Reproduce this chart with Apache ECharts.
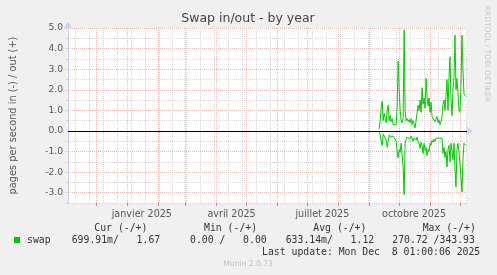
<!DOCTYPE html>
<html>
<head>
<meta charset="utf-8">
<script src="https://cdn.jsdelivr.net/npm/echarts@6/dist/echarts.min.js"></script>
<style>
html, body { margin: 0; padding: 0; background: #f0f0f0; }
#chart { width: 497px; height: 275px; }
</style>
</head>
<body>
<div id="chart"></div>
<script>
// one value per day, starting at firstDay
var firstDay = "2025-09-11";
var outValues = [0.1, 0.5, 1.1, 1.45, 0.5, 0.85, 0.6, 0.4, 0.95, 1.25,
    0.5, 0.75, 0.45, 0.6, 0.3, 0.25, 0.25, 0.3, 1.2, 3.4,
    2.1, 1.0, 0.5, 0.4, 0.6, 4.9, 1.0, 0.5, 0.6, 0.45,
    0.55, 0.4, 0.6, 0.3, 0.5, 0.35, 0.15, 0.5, 0.9, 1.25,
    1.0, 1.5, 0.9, 2.1, 1.3, 1.6, 1.1, 2.55, 1.7, 1.2,
    1.6, 0.9, 1.4, 0.7, 0.6, 0.55, 0.45, 0.5, 0.7, 0.4,
    0.55, 0.3, 0.45, 0.7, 1.3, 1.5, 1.0, 1.7, 2.5, 1.0,
    2.6, 3.6, 1.5, 0.75, 2.0, 2.6, 4.65, 2.0, 2.55, 1.8,
    1.0, 0.9, 2.2, 4.65, 3.0, 1.8, 1.73, 1.67];
var inValues = [-0.05, -0.2, -0.5, -0.7, -0.15, -0.25, -0.3, -0.45, -0.8, -0.5,
    -0.2, -0.3, -0.25, -0.3, -0.25, -0.3, -0.2, -0.5, -1.0, -1.3,
    -0.9, -1.05, -0.6, -0.55, -1.75, -3.1, -0.6, -0.4, -0.3, -0.35,
    -0.3, -0.4, -0.25, -0.35, -0.5, -0.35, -0.3, -0.45, -0.3, -0.5,
    -0.6, -0.85, -0.55, -0.7, -1.1, -0.6, -0.95, -0.8, -1.2, -0.9,
    -1.0, -0.6, -0.7, -0.45, -0.55, -0.4, -0.5, -0.35, -0.4, -0.3,
    -0.35, -0.3, -0.4, -0.35, -1.1, -0.8, -1.3, -1.0, -1.75, -0.9,
    -0.7, -1.5, -0.6, -0.6, -1.4, -0.6, -1.8, -2.72, -0.9, -0.6,
    -1.0, -1.6, -2.2, -2.97, -1.4, -0.6, -0.65, -0.7];

var axisStart = "2024-11-03";
var axisEnd = "2025-12-08T01:00:06";
var labelDays = ["2025-01-16", "2025-04-16", "2025-07-16", "2025-10-16"];
var labelTexts = ["janvier 2025", "avril 2025", "juillet 2025", "octobre 2025"];

var legendHeads = ["Cur (-/+)", "Min (-/+)", "Avg (-/+)", "Max (-/+)"];
var legendValues = ["699.91m/   1.67", "0.00 /   0.00", "633.14m/   1.12", "270.72 /343.93"];
var lastUpdate = "Last update: Mon Dec  8 01:00:06 2025";

var DAY = 86400000;
function ts(s) {
    return new Date(s.length === 10 ? s + "T00:00:00" : s).getTime();
}
var tMin = ts(axisStart), tMax = ts(axisEnd);
// x axis is counted in days since axisStart
function dayOf(t) { return (t - tMin) / DAY; }
var xMax = dayOf(tMax);

// month starts (red grid) and every other sunday (grey grid)
var monthTicks = [];
for (var m = 0; m < 14; m++) {
    var d = dayOf(new Date(2024, 11 + m, 1).getTime());
    if (d > 0 && d < xMax) monthTicks.push(Math.round(d * 1000) / 1000);
}
var weekTicks = [];
for (var k = 0; k < 40; k++) {
    var w = dayOf(new Date(2024, 10, 10 + 14 * k).getTime());
    if (w > 0 && w < xMax) weekTicks.push(Math.round(w * 1000) / 1000);
}
var labelPos = labelDays.map(function (s) { return Math.round(dayOf(ts(s)) * 1000) / 1000; });

var t0 = new Date(firstDay + "T00:00:00");
function toPoints(vals) {
    return vals.map(function (v, i) {
        return [dayOf(new Date(t0.getFullYear(), t0.getMonth(), t0.getDate() + i).getTime()), v];
    });
}

var grey = "#d6d6d6", red = "#ecb6b6", axisBlue = "#c8d0f4";
var font = "DejaVu Sans";
var mono = "DejaVu Sans Mono";

var chart = echarts.init(document.getElementById("chart"));

var graphics = [
    { type: "text", x: 248, y: 19, style: { text: "Swap in/out - by year", font: "12.5px " + font, fill: "#444", textAlign: "center", textVerticalAlign: "middle" } },
    { type: "text", x: 487, y: 54, rotation: -Math.PI / 2, style: { text: "RRDTOOL / TOBI OETIKER", font: "7.5px " + font, fill: "#c8c8c8", textAlign: "center", textVerticalAlign: "middle" } },
    { type: "rect", shape: { x: 14, y: 237, width: 6, height: 6 }, style: { fill: "#00cc00" } },
    { type: "text", x: 27, y: 240, style: { text: "swap", font: "9.8px " + mono, fill: "#333", textVerticalAlign: "middle" } },
    { type: "text", x: 262, y: 252, style: { text: lastUpdate, font: "9.8px " + mono, fill: "#333", textVerticalAlign: "middle" } },
    { type: "text", x: 248, y: 264, style: { text: "Munin 2.0.73", font: "7.6px " + font, fill: "#c0c0c0", textAlign: "center", textVerticalAlign: "middle" } }
];
var headX = [94.3, 204, 313.3, 422.7];
var valX = [71.7, 190, 285.7, 392.3];
legendHeads.forEach(function (h, i) {
    graphics.push({ type: "text", x: headX[i], y: 228, style: { text: h, font: "9.8px " + mono, fill: "#333", textVerticalAlign: "middle" } });
    graphics.push({ type: "text", x: valX[i], y: 240, style: { text: legendValues[i], font: "9.8px " + mono, fill: "#333", textVerticalAlign: "middle" } });
});

var option = {
    backgroundColor: "#f0f0f0",
    animation: false,
    grid: { left: 66, right: 30, top: 28, bottom: 72, show: true, backgroundColor: "#ffffff", borderWidth: 0 },
    xAxis: [{
        type: "value",
        min: 0,
        max: xMax,
        axisLine: { show: true, lineStyle: { color: axisBlue, width: 1 }, symbol: ["none", "arrow"], symbolSize: [7, 7], symbolOffset: [0, 6] },
        axisTick: { show: true, customValues: weekTicks, length: 2, lineStyle: { color: "#bbbbbb" } },
        splitLine: { show: true, lineStyle: { color: grey, type: [1, 1] } },
        axisLabel: {
            customValues: labelPos,
            margin: 6,
            color: "#555",
            fontFamily: font,
            fontSize: 9.6,
            formatter: function (v) {
                var i = labelPos.indexOf(v);
                return i >= 0 ? labelTexts[i] : "";
            }
        }
    }, {
        type: "value",
        min: 0,
        max: xMax,
        position: "bottom",
        axisLine: { show: false },
        axisTick: { show: true, customValues: monthTicks, length: 3, lineStyle: { color: "#e08080" } },
        splitLine: { show: true, lineStyle: { color: red, type: [1, 1] } },
        axisLabel: { show: false }
    }],
    yAxis: {
        type: "value",
        min: -3.5,
        max: 5,
        interval: 0.5,
        name: "pages per second in (-) / out (+)",
        nameLocation: "middle",
        nameGap: 50,
        nameTextStyle: { color: "#555", fontFamily: font, fontSize: 9.8 },
        axisLine: { show: true, lineStyle: { color: axisBlue, width: 1 }, symbol: ["none", "arrow"], symbolSize: [7, 7], symbolOffset: [0, 6] },
        axisTick: { show: true, length: 2, lineStyle: { color: "#cccccc" } },
        splitLine: { show: true, lineStyle: { color: [grey, red], type: [1, 1] } },
        axisLabel: {
            color: "#555",
            fontFamily: font,
            fontSize: 9.2,
            margin: 5,
            formatter: function (v) {
                return Math.abs(v - Math.round(v)) < 1e-9 ? v.toFixed(1) : "";
            }
        }
    },
    series: [{
        name: "out",
        type: "line",
        data: toPoints(outValues),
        showSymbol: false,
        lineStyle: { color: "#00cc00", width: 1 },
        markLine: {
            silent: true,
            symbol: "none",
            label: { show: false },
            lineStyle: { color: "#000", type: "solid", width: 1 },
            data: [{ yAxis: 0 }]
        }
    }, {
        name: "in",
        type: "line",
        data: toPoints(inValues),
        showSymbol: false,
        lineStyle: { color: "#00cc00", width: 1 }
    }],
    graphic: graphics
};
chart.setOption(option);
</script>
</body>
</html>
